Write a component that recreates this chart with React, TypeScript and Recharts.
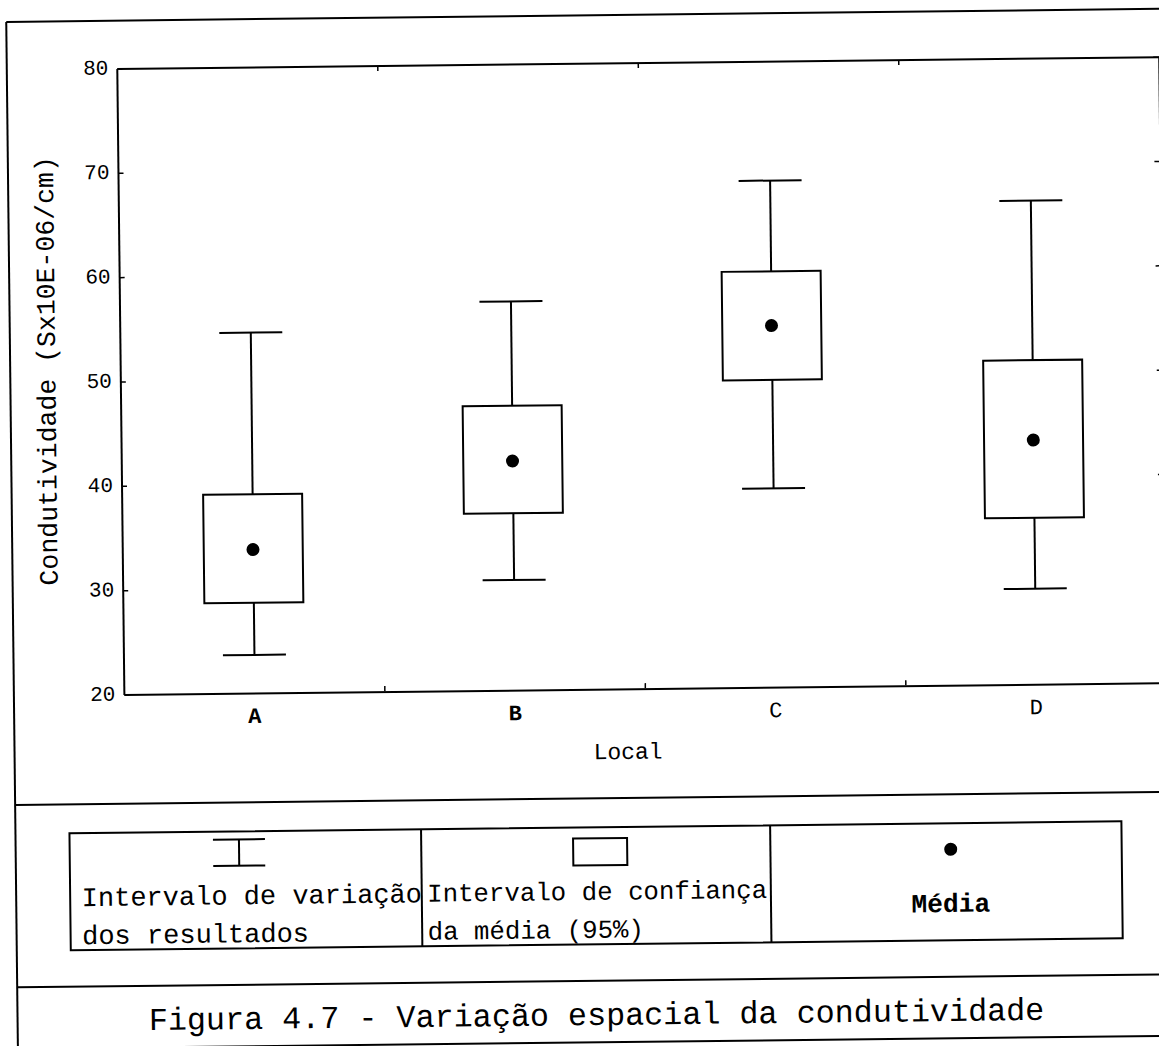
import React from 'react';
import { ComposedChart, Bar, Scatter, XAxis, YAxis } from 'recharts';

// ---- data ----
const CATEGORIES = ['A', 'B', 'C', 'D'];
const MIN_VALUES = [23.7, 30.6, 39.1, 29.2];
const CI_LOW = [28.7, 37.0, 49.5, 36.0];
const MEAN_VALUES = [33.8, 42.0, 54.7, 43.45];
const CI_HIGH = [39.1, 47.3, 59.9, 51.1];
const MAX_VALUES = [54.6, 57.3, 68.6, 66.4];
const Y_TICKS = [20, 30, 40, 50, 60, 70, 80];

const Y_LABEL = 'Condutividade (Sx10E-06/cm)';
const X_LABEL = 'Local';
const LEGEND_RANGE = ['Intervalo de variação', 'dos resultados'];
const LEGEND_CI = ['Intervalo de confiança', 'da média (95%)'];
const LEGEND_MEAN = 'Média';
const CAPTION = 'Figura 4.7 - Variação espacial da condutividade';

const data = CATEGORIES.map((cat, i) => ({
  cat,
  min: MIN_VALUES[i],
  lo: CI_LOW[i],
  mean: MEAN_VALUES[i],
  hi: CI_HIGH[i],
  max: MAX_VALUES[i],
}));

const FONT = "'Liberation Mono', 'Courier New', monospace";
const BOLD_CATS = ['A', 'B'];

const BoxShape = (props: any) => {
  const { x, y, width, height, payload } = props;
  if (!payload || !isFinite(y) || !isFinite(height)) return null;
  const top = Math.min(y, y + height);
  const bottom = Math.max(y, y + height);
  const ppu = (bottom - top) / (payload.max - payload.min);
  const yOf = (v: number) => top + (payload.max - v) * ppu;
  const cx = x + width / 2;
  const capHalf = 31.5;
  const yHi = yOf(payload.hi);
  const yLo = yOf(payload.lo);
  return (
    <g stroke="#000" strokeWidth={2} fill="none">
      <line x1={cx} x2={cx} y1={top} y2={yHi} />
      <line x1={cx} x2={cx} y1={yLo} y2={bottom} />
      <line x1={cx - capHalf} x2={cx + capHalf} y1={top} y2={top} />
      <line x1={cx - capHalf} x2={cx + capHalf} y1={bottom} y2={bottom} />
      <rect x={x} y={yHi} width={width} height={yLo - yHi} fill="#fff" />
    </g>
  );
};

const MeanDot = (props: any) => {
  const { cx, cy } = props;
  if (!isFinite(cx) || !isFinite(cy)) return null;
  return <circle cx={cx} cy={cy} r={6.5} fill="#000" />;
};

const LeftTick = (props: any) => {
  const { x, y, payload } = props;
  return (
    <g>
      <line x1={x} x2={x + 5} y1={y} y2={y} stroke="#000" strokeWidth={1.5} />
      <text x={x - 9} y={y} textAnchor="end" dominantBaseline="central" fontFamily={FONT} fontSize={21} fill="#000">
        {payload.value}
      </text>
    </g>
  );
};

const RightTick = (props: any) => {
  const { x, y } = props;
  return <line x1={x} x2={x - 6} y1={y} y2={y} stroke="#000" strokeWidth={1.5} />;
};

// tick marks sit on the boundaries between category bands (left edge of each band except the first)
const boundaryX = (props: any) => {
  const { x, payload, index } = props;
  const off = payload && typeof payload.offset === 'number' ? payload.offset : null;
  const idx = typeof index === 'number' ? index : payload ? payload.index : 0;
  if (off == null || !idx) return null;
  return x - off;
};

const CatTick = (props: any) => {
  const { x, y, payload } = props;
  const bold = BOLD_CATS.includes(payload.value);
  const bx = boundaryX(props);
  return (
    <g>
      {bx != null && <line x1={bx} x2={bx} y1={y - 1} y2={y - 6} stroke="#000" strokeWidth={1.5} />}
      <text x={x} y={y + 24} textAnchor="middle" dominantBaseline="central" fontFamily={FONT} fontSize={22}
        fontWeight={bold ? 'bold' : 'normal'} fill="#000">
        {payload.value}
      </text>
    </g>
  );
};

const TopTick = (props: any) => {
  const { y } = props;
  const bx = boundaryX(props);
  if (bx == null) return <g />;
  return <line x1={bx} x2={bx} y1={y} y2={y + 5} stroke="#000" strokeWidth={1.5} />;
};

const YLabel = (props: any) => {
  const vb = props && props.viewBox ? props.viewBox : { x: 115.5, y: 70.3, width: 1, height: 626 };
  const cx = vb.x + vb.width - 72.5;
  const cy = vb.y + vb.height / 2 - 12;
  return (
    <text x={cx} y={cy} transform={`rotate(-90, ${cx}, ${cy})`} textAnchor="middle" dominantBaseline="central"
      fontFamily={FONT} fontSize={26.5} fill="#000">
      {Y_LABEL}
    </text>
  );
};

const XLabel = (props: any) => {
  const vb = props && props.viewBox ? props.viewBox : { x: 116.5, y: 696.4, width: 1042, height: 1 };
  const cx = vb.x + vb.width / 2 - 18;
  const cy = vb.y + 63.6;
  return (
    <text x={cx} y={cy} textAnchor="middle" dominantBaseline="central" fontFamily={FONT} fontSize={23} fill="#000">
      {X_LABEL}
    </text>
  );
};

const axisLineStyle = { stroke: '#000', strokeWidth: 2 };

export default function App() {
  return (
    <div style={{ position: 'absolute', left: 0, top: 0, width: 1159, height: 1046, overflow: 'hidden', background: '#fff' }}>
      <div style={{ position: 'absolute', left: 0, top: 0, width: 1260, height: 1100, transform: 'rotate(-0.65deg)', transformOrigin: '0 0' }}>
        <div style={{ position: 'absolute', left: 0, top: 0 }}>
          <ComposedChart width={1200} height={800} data={data}
            margin={{ top: 69.3, left: 115.5, right: 40.5, bottom: 102.6 }}>
            <XAxis xAxisId="cat" dataKey="cat" type="category" height={1} tickSize={0} tickMargin={0}
              axisLine={axisLineStyle} tickLine={false} tick={CatTick} interval={0} label={XLabel} />
            <XAxis xAxisId="catTop" dataKey="cat" type="category" orientation="top" height={1} tickSize={0} tickMargin={0}
              axisLine={axisLineStyle} tickLine={false} tick={TopTick} interval={0} />
            <YAxis yAxisId="left" type="number" domain={[20, 80]} ticks={Y_TICKS} width={1} tickSize={0} tickMargin={0}
              axisLine={axisLineStyle} tickLine={false} tick={LeftTick} interval={0} label={YLabel} />
            <YAxis yAxisId="right" orientation="right" type="number" domain={[20, 80]} allowDataOverflow ticks={Y_TICKS}
              width={1} tickSize={0} tickMargin={0} axisLine={axisLineStyle} tickLine={false} tick={RightTick} interval={0} />
            <Bar xAxisId="cat" yAxisId="left" dataKey={(d: any) => [d.min, d.max]} barSize={99}
              shape={BoxShape} isAnimationActive={false} />
            <Scatter xAxisId="cat" yAxisId="left" dataKey="mean" shape={MeanDot} isAnimationActive={false} />
          </ComposedChart>
        </div>
        <svg width={1260} height={1100} style={{ position: 'absolute', left: 0, top: 0, pointerEvents: 'none' }}>
          {/* outer frame */}
          <g stroke="#000" strokeWidth={2} fill="none">
            <line x1={6} y1={22} x2={1260} y2={22} />
            <line x1={6} y1={22} x2={6} y2={1060} />
            <line x1={6} y1={805} x2={1260} y2={805} />
            <line x1={6} y1={987.5} x2={1260} y2={987.5} />
            <line x1={6} y1={1049} x2={1260} y2={1049} />
            {/* legend table */}
            <rect x={60} y={834} width={1052} height={117} />
            <line x1={411.6} y1={834} x2={411.6} y2={951} />
            <line x1={760.7} y1={834} x2={760.7} y2={951} />
            {/* legend icons */}
            <line x1={229.4 - 26} x2={229.4 + 26} y1={842} y2={842} />
            <line x1={229.4 - 26} x2={229.4 + 26} y1={868.4} y2={868.4} />
            <line x1={229.4} x2={229.4} y1={842} y2={868.4} />
            <rect x={563.5} y={845} width={54} height={27} />
          </g>
          <circle cx={941} cy={860} r={6.5} fill="#000" />
          <g fontFamily={FONT} fill="#000">
            <text x={71.5} y={900} fontSize={27} dominantBaseline="central">{LEGEND_RANGE[0]}</text>
            <text x={71.5} y={938} fontSize={27} dominantBaseline="central">{LEGEND_RANGE[1]}</text>
            <text x={417} y={900} fontSize={25.75} dominantBaseline="central">{LEGEND_CI[0]}</text>
            <text x={417} y={938} fontSize={25.75} dominantBaseline="central">{LEGEND_CI[1]}</text>
            <text x={940.5} y={915.7} fontSize={26.3} fontWeight="bold" textAnchor="middle" dominantBaseline="central">{LEGEND_MEAN}</text>
            <text x={585} y={1023.7} fontSize={31.75} textAnchor="middle" dominantBaseline="central">{CAPTION}</text>
          </g>
        </svg>
      </div>
    </div>
  );
}
